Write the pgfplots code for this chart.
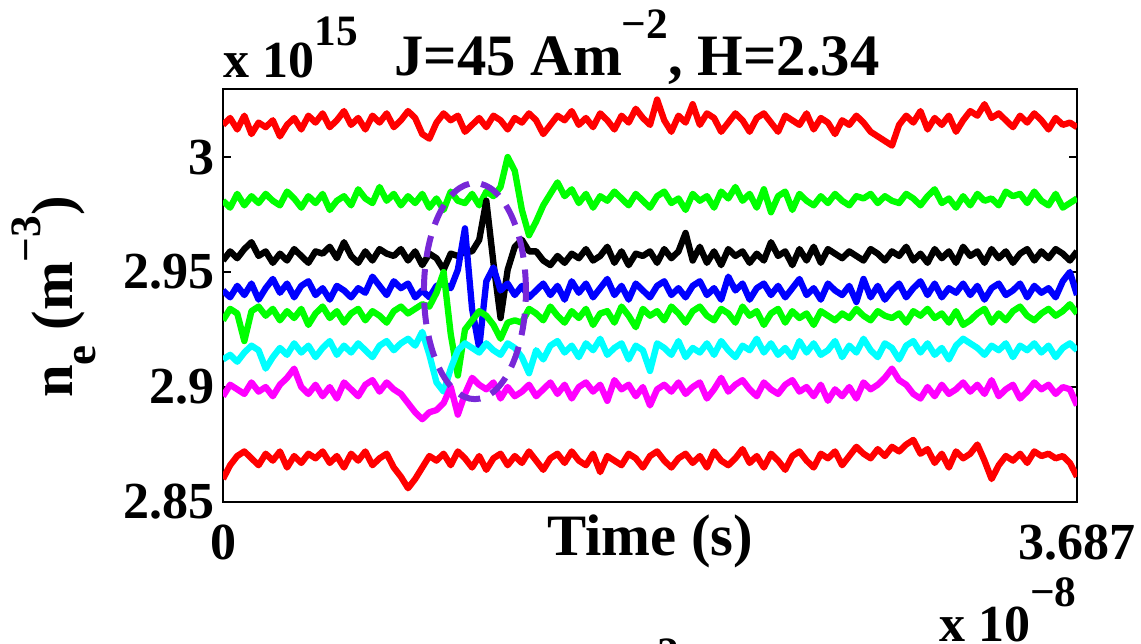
\documentclass[border=0pt]{standalone}
\usepackage{fontspec}
\setmainfont{Liberation Serif}
\usepackage{pgfplots}
\usepackage{pgfplotstable}
\pgfplotsset{compat=1.18}
\definecolor{ellc}{RGB}{120,40,215}
\definecolor{mred}{RGB}{255,0,0}
\definecolor{mgreen}{RGB}{0,255,0}
\definecolor{mblue}{RGB}{0,0,255}
\definecolor{mcyan}{RGB}{0,255,255}
\definecolor{mmag}{RGB}{255,0,255}
\pgfplotstableread{
i r1 g1 k b g2 c m r2
0 3.014 2.981 2.955 2.942 2.929 2.912 2.896 2.860
1 3.017 2.978 2.959 2.939 2.934 2.914 2.901 2.866
2 3.012 2.984 2.956 2.944 2.932 2.911 2.899 2.870
3 3.018 2.979 2.960 2.940 2.920 2.915 2.897 2.872
4 3.010 2.983 2.963 2.945 2.933 2.918 2.902 2.869
5 3.015 2.980 2.957 2.938 2.935 2.916 2.898 2.866
6 3.013 2.984 2.959 2.943 2.931 2.908 2.900 2.871
7 3.016 2.981 2.954 2.947 2.934 2.913 2.896 2.868
8 3.009 2.979 2.958 2.941 2.929 2.917 2.901 2.872
9 3.014 2.985 2.955 2.945 2.933 2.914 2.904 2.865
10 3.017 2.982 2.960 2.939 2.930 2.919 2.908 2.870
11 3.012 2.978 2.957 2.944 2.934 2.915 2.900 2.867
12 3.018 2.983 2.954 2.946 2.927 2.918 2.897 2.871
13 3.015 2.980 2.959 2.940 2.932 2.913 2.901 2.869
14 3.019 2.984 2.958 2.943 2.935 2.917 2.896 2.872
15 3.013 2.977 2.961 2.938 2.930 2.920 2.900 2.867
16 3.016 2.981 2.956 2.944 2.933 2.914 2.895 2.870
17 3.020 2.983 2.963 2.942 2.928 2.918 2.902 2.865
18 3.014 2.979 2.957 2.939 2.932 2.915 2.899 2.871
19 3.017 2.986 2.954 2.943 2.934 2.919 2.896 2.868
20 3.012 2.982 2.959 2.941 2.929 2.916 2.901 2.872
21 3.018 2.980 2.955 2.948 2.933 2.913 2.903 2.866
22 3.015 2.987 2.960 2.944 2.931 2.918 2.898 2.869
23 3.019 2.981 2.958 2.940 2.928 2.920 2.902 2.871
24 3.013 2.984 2.957 2.946 2.933 2.916 2.899 2.865
25 3.016 2.979 2.960 2.943 2.935 2.919 2.897 2.861
26 3.020 2.983 2.955 2.945 2.932 2.921 2.893 2.856
27 3.017 2.980 2.959 2.939 2.934 2.918 2.889 2.860
28 3.010 2.984 2.953 2.942 2.936 2.924 2.886 2.865
29 3.008 2.978 2.958 2.939 2.935 2.914 2.889 2.870
30 3.015 2.982 2.956 2.944 2.941 2.902 2.890 2.868
31 3.019 2.977 2.951 2.945 2.950 2.898 2.893 2.871
32 3.016 2.985 2.958 2.943 2.923 2.908 2.900 2.866
33 3.018 2.981 2.957 2.951 2.905 2.916 2.888 2.872
34 3.011 2.980 2.959 2.969 2.925 2.919 2.897 2.869
35 3.014 2.984 2.959 2.934 2.929 2.917 2.904 2.865
36 3.017 2.979 2.964 2.917 2.933 2.915 2.901 2.870
37 3.013 2.985 2.981 2.946 2.931 2.919 2.899 2.864
38 3.018 2.983 2.954 2.952 2.927 2.916 2.902 2.869
39 3.016 2.987 2.930 2.942 2.921 2.914 2.895 2.871
40 3.012 3.000 2.951 2.945 2.928 2.919 2.900 2.866
41 3.017 2.994 2.961 2.940 2.929 2.917 2.896 2.870
42 3.015 2.977 2.964 2.944 2.928 2.913 2.898 2.867
43 3.019 2.966 2.959 2.939 2.934 2.906 2.901 2.872
44 3.016 2.972 2.959 2.942 2.932 2.916 2.896 2.868
45 3.010 2.979 2.955 2.945 2.929 2.912 2.899 2.864
46 3.014 2.984 2.953 2.940 2.935 2.918 2.902 2.869
47 3.018 2.989 2.957 2.944 2.931 2.920 2.897 2.871
48 3.016 2.983 2.954 2.938 2.928 2.915 2.901 2.867
49 3.020 2.986 2.958 2.946 2.933 2.918 2.895 2.872
50 3.014 2.980 2.956 2.941 2.930 2.913 2.900 2.868
51 3.017 2.984 2.960 2.945 2.934 2.919 2.902 2.866
52 3.013 2.978 2.955 2.939 2.927 2.916 2.898 2.871
53 3.019 2.983 2.957 2.943 2.932 2.921 2.901 2.863
54 3.016 2.981 2.961 2.947 2.933 2.914 2.894 2.870
55 3.012 2.985 2.954 2.940 2.928 2.917 2.903 2.868
56 3.018 2.982 2.959 2.944 2.935 2.919 2.899 2.866
57 3.015 2.979 2.953 2.938 2.931 2.912 2.901 2.871
58 3.021 2.984 2.958 2.945 2.926 2.918 2.896 2.869
59 3.017 2.981 2.957 2.942 2.934 2.916 2.900 2.865
60 3.014 2.978 2.959 2.939 2.931 2.907 2.892 2.870
61 3.025 2.983 2.954 2.944 2.933 2.919 2.899 2.872
62 3.016 2.985 2.960 2.946 2.929 2.917 2.901 2.868
63 3.011 2.980 2.956 2.940 2.935 2.914 2.898 2.865
64 3.018 2.982 2.959 2.943 2.932 2.920 2.902 2.869
65 3.015 2.977 2.967 2.939 2.928 2.913 2.897 2.871
66 3.023 2.984 2.955 2.944 2.933 2.917 2.900 2.867
67 3.014 2.981 2.961 2.946 2.935 2.915 2.902 2.870
68 3.019 2.983 2.954 2.940 2.931 2.919 2.895 2.865
69 3.017 2.978 2.959 2.943 2.929 2.914 2.899 2.872
70 3.011 2.985 2.953 2.938 2.934 2.920 2.904 2.868
71 3.015 2.982 2.960 2.948 2.932 2.916 2.898 2.866
72 3.019 2.987 2.957 2.942 2.928 2.913 2.901 2.869
73 3.016 2.981 2.959 2.945 2.935 2.918 2.903 2.873
74 3.011 2.984 2.954 2.938 2.931 2.916 2.899 2.867
75 3.017 2.978 2.958 2.943 2.933 2.921 2.896 2.870
76 3.019 2.986 2.955 2.945 2.927 2.915 2.902 2.865
77 3.015 2.976 2.963 2.940 2.932 2.919 2.899 2.871
78 3.011 2.983 2.957 2.944 2.934 2.914 2.897 2.868
79 3.018 2.985 2.959 2.939 2.928 2.917 2.901 2.864
80 3.016 2.977 2.953 2.943 2.933 2.913 2.903 2.870
81 3.014 2.984 2.960 2.947 2.930 2.920 2.898 2.872
82 3.019 2.981 2.955 2.940 2.932 2.915 2.900 2.868
83 3.012 2.979 2.961 2.943 2.927 2.919 2.896 2.865
84 3.017 2.983 2.954 2.938 2.933 2.914 2.901 2.871
85 3.015 2.980 2.960 2.945 2.931 2.916 2.894 2.869
86 3.010 2.984 2.958 2.942 2.929 2.920 2.899 2.872
87 3.016 2.981 2.956 2.940 2.932 2.913 2.896 2.866
88 3.014 2.979 2.959 2.944 2.930 2.918 2.900 2.870
89 3.018 2.983 2.957 2.937 2.934 2.915 2.895 2.874
90 3.015 2.982 2.955 2.947 2.931 2.921 2.902 2.871
91 3.011 2.984 2.960 2.939 2.929 2.916 2.899 2.869
92 3.009 2.980 2.958 2.944 2.933 2.913 2.901 2.873
93 3.007 2.983 2.955 2.938 2.931 2.919 2.904 2.870
94 3.005 2.981 2.959 2.942 2.930 2.917 2.908 2.874
95 3.014 2.980 2.957 2.945 2.932 2.912 2.903 2.872
96 3.018 2.984 2.961 2.939 2.928 2.918 2.901 2.875
97 3.015 2.982 2.955 2.943 2.933 2.920 2.897 2.877
98 3.020 2.979 2.958 2.946 2.931 2.915 2.895 2.871
99 3.012 2.983 2.954 2.940 2.934 2.919 2.900 2.873
100 3.017 2.986 2.960 2.945 2.930 2.914 2.896 2.867
101 3.014 2.980 2.956 2.939 2.932 2.917 2.901 2.871
102 3.018 2.982 2.959 2.943 2.928 2.912 2.897 2.865
103 3.011 2.978 2.954 2.941 2.933 2.918 2.899 2.872
104 3.016 2.983 2.961 2.945 2.927 2.921 2.902 2.869
105 3.020 2.979 2.957 2.940 2.929 2.919 2.898 2.871
106 3.018 2.984 2.959 2.944 2.932 2.917 2.901 2.875
107 3.023 2.981 2.954 2.938 2.934 2.914 2.897 2.868
108 3.017 2.982 2.960 2.943 2.928 2.918 2.903 2.860
109 3.019 2.979 2.956 2.945 2.932 2.916 2.896 2.866
110 3.016 2.985 2.959 2.940 2.929 2.919 2.899 2.870
111 3.013 2.983 2.954 2.942 2.933 2.913 2.901 2.868
112 3.018 2.984 2.958 2.945 2.935 2.918 2.895 2.871
113 3.015 2.980 2.960 2.939 2.931 2.916 2.898 2.867
114 3.019 2.985 2.955 2.944 2.929 2.919 2.902 2.872
115 3.016 2.981 2.959 2.941 2.932 2.915 2.899 2.870
116 3.012 2.979 2.956 2.943 2.934 2.918 2.901 2.871
117 3.017 2.984 2.960 2.939 2.931 2.913 2.897 2.869
118 3.014 2.978 2.958 2.946 2.933 2.917 2.900 2.870
119 3.015 2.980 2.955 2.950 2.936 2.919 2.899 2.867
120 3.013 2.982 2.959 2.940 2.932 2.916 2.892 2.861
}\datatable
\newcommand{\tickfont}{\bfseries\fontsize{15.6}{18}\selectfont}
\newcommand{\labfont}{\bfseries\fontsize{17.6}{20}\selectfont}
\newcommand{\msup}[2]{\raisebox{#1}{\fontsize{13}{15}\selectfont #2}}
\begin{document}
\begin{tikzpicture}
\begin{axis}[
  at={(66.9pt,-150.6pt)}, anchor=south west,
  scale only axis, width=256.2pt, height=123.9pt,
  xmin=0, xmax=120, ymin=2.85, ymax=3.0296,
  xtick={0,120}, xticklabels={0,3.687},
  ytick={2.85,2.9,2.95,3}, yticklabels={2.85,2.9,2.95,3},
  tick align=inside, major tick length=2.4pt,
  axis line style={line width=0.6pt},
  tick style={line width=0.6pt, black},
  ticklabel style={font=\tickfont, inner sep=0pt},
  yticklabel style={anchor=east, xshift=-2.4pt},
  xticklabel style={anchor=north, yshift=-6.6pt},
  every axis plot/.append style={line width=1.9pt, line join=round, mark=none},
]
\addplot[mred] table[x=i, y=r1] {\datatable};
\addplot[mgreen] table[x=i, y=g1] {\datatable};
\addplot[black] table[x=i, y=k] {\datatable};
\addplot[mblue] table[x=i, y=b] {\datatable};
\addplot[mgreen] table[x=i, y=g2] {\datatable};
\addplot[mcyan] table[x=i, y=c] {\datatable};
\addplot[mmag] table[x=i, y=m] {\datatable};
\addplot[mred] table[x=i, y=r2] {\datatable};
\draw[ellc, line width=1.8pt, dash pattern=on 6.5pt off 3.6pt] (axis cs:35.4,2.9417) ellipse [x radius=15.3pt, y radius=32.4pt];
\end{axis}
\begin{scope}[x=0.3pt, y=-0.3pt]
\node[anchor=base west, inner sep=0pt, font=\tickfont] at (223,77) {x 10\msup{9.6pt}{15}};
\node[anchor=base, inner sep=0pt, font=\labfont] at (637,75) {J=45 Am\msup{11pt}{−2}, H=2.34};
\node[anchor=base, inner sep=0pt, font=\labfont] at (650,555) {Time (s)};
\node[rotate=90, anchor=base, inner sep=0pt, font=\labfont] at (72,297) {n\raisebox{-7pt}{\fontsize{13.5}{15}\selectfont e} (m\msup{9.5pt}{−3})};
\node[anchor=base east, inner sep=0pt, font=\tickfont] at (1077,641) {x 10\msup{10.5pt}{−8}};
\node[anchor=north, inner sep=0pt, font=\bfseries\fontsize{13}{15}\selectfont] at (668,638) {2};
\end{scope}
\pgfresetboundingbox
\path[use as bounding box] (0pt,0pt) rectangle (342.3pt,-192.9pt);
\end{tikzpicture}
\end{document}
